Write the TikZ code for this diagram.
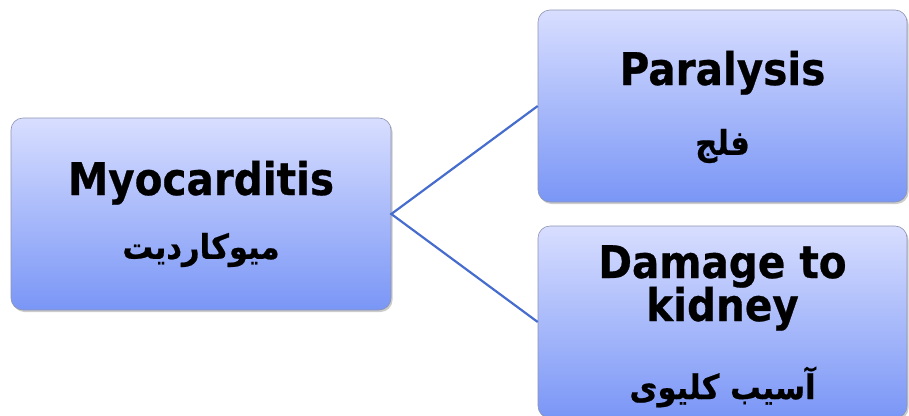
\documentclass[tikz,border=0pt]{standalone}
\usepackage{fontspec}
\setmainfont{DejaVu Sans}
\newfontfamily\enfont[FakeStretch=0.9,FakeBold=0.6]{DejaVu Sans}
\newfontfamily\arabicfont[Script=Arabic,FakeStretch=0.9,FakeBold=0.6]{DejaVu Sans}
\TeXXeTstate=1
\usetikzlibrary{shadows}

\definecolor{boxtop}{RGB}{216,222,255}
\definecolor{boxbot}{RGB}{122,150,246}
\definecolor{boxedge}{RGB}{140,148,178}
\definecolor{linkblue}{RGB}{70,108,206}

\tikzset{
  box/.style={rounded corners=12pt, top color=boxtop, bottom color=boxbot,
    draw=boxedge, line width=0.6pt, minimum height=192pt, inner sep=0pt,
    drop shadow={shadow xshift=1.5pt, shadow yshift=-2pt, opacity=0.4}},
  link/.style={draw=linkblue, line width=2.2pt},
  entext/.style={font=\enfont\bfseries\fontsize{45}{50}\selectfont, anchor=base, inner sep=0pt},
  fatext/.style={font=\arabicfont\bfseries\fontsize{34}{40}\selectfont, anchor=center, inner sep=0pt}
}

\begin{document}
\begin{tikzpicture}[x=1pt,y=-1pt]
  \useasboundingbox (0,0) rectangle (909,415);
  \clip (0,0) rectangle (909,415);

  % boxes
  \node[box, minimum width=380pt] (myo) at (201,214) {};
  \node[box, minimum width=369pt] (para) at (722.5,106) {};
  \node[box, minimum width=369pt] (kid) at (722.5,322) {};

  % connectors
  \draw[link] (para.west) -- (myo.east) -- (kid.west);

  % labels
  \node[entext] (myoT) at (201,195) {Myocarditis};
  \node[fatext] (myoA) at (201,250) {\beginR میوکاردیت\endR};

  \node[entext] (paraT) at (722.5,85) {Paralysis};
  \node[fatext] (paraA) at (722.5,146) {\beginR فلج\endR};

  \node[entext] (kidT1) at (722.5,278) {Damage to};
  \node[entext] (kidT2) at (722.5,321) {kidney};
  \node[fatext] (kidA) at (722.5,387) {\beginR آسیب کلیوی\endR};
\end{tikzpicture}
\end{document}
